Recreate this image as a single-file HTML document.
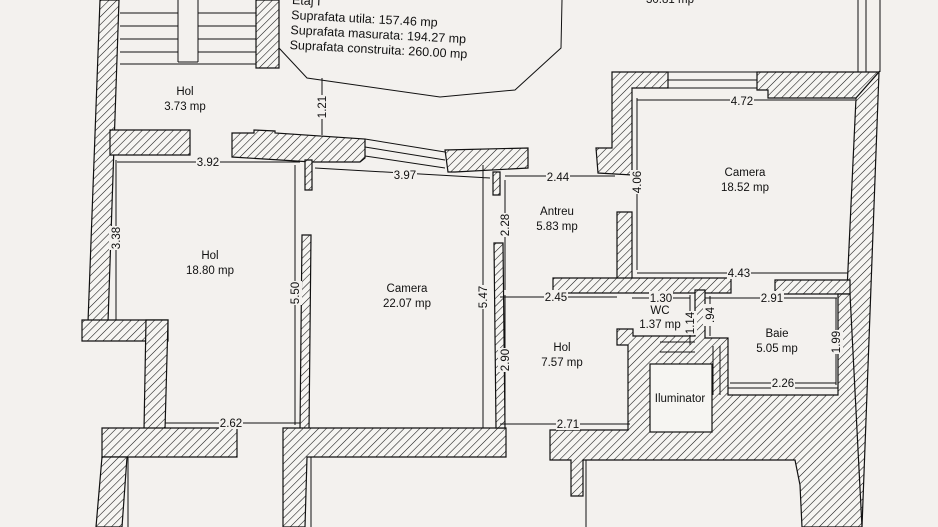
<!DOCTYPE html>
<html><head><meta charset="utf-8"><style>
html,body{margin:0;padding:0;background:#f3f1ee;}
svg{display:block;}
text{font-family:"Liberation Sans Narrow","Liberation Sans",sans-serif;font-size:11.5px;fill:#111;}
</style></head><body>
<svg width="938" height="527" viewBox="0 0 938 527" xmlns="http://www.w3.org/2000/svg">
<defs>
<pattern id="h" width="5.5" height="5.5" patternUnits="userSpaceOnUse" patternTransform="rotate(45)">
<rect width="6" height="6" fill="#f6f5f2"/><line x1="0" y1="0" x2="0" y2="6" stroke="#111" stroke-width="1.1"/>
</pattern>
</defs>
<rect width="938" height="527" fill="#f3f1ee"/>
<g fill="url(#h)" stroke="#111" stroke-width="1.2">
<polygon points="100,0 119,0 108,322 88,322"/>
<polygon points="82,320 168,320 168,341 82,341"/>
<polygon points="146,320 168,320 165,430 144,430"/>
<polygon points="102,428 237,428 237,457 102,457"/>
<polygon points="102,457 127,457 122,527 96,527"/>
<polygon points="110,130 190,130 190,155 110,155"/>
<polygon points="256,0 279,0 279,68 256,68"/>
<polygon points="232,133 254,133 254,130 275,131 275,133 365,139 365,158 360,162 312,162 232,157"/>
<polygon points="305,160 312,160 312,190 305,190"/>
<polygon points="445,150 528,148 528,168 455,172 448,172"/>
<polygon points="493,172 500,172 500,195 493,195"/>
<polygon points="302,235 311,235 309,430 300,430"/>
<polygon points="283,428 506,428 506,457 307,457 305,527 283,527 283,457"/>
<polygon points="494,243 503,243 505,428 496,428"/>
<polygon points="612,72 668,72 668,88 632,88 632,175 598,173 596,148 612,148"/>
<polygon points="757,72 879,72 856,98 768,98 768,90 757,90"/>
<polygon points="856,98 879,72 862,527 840,527 847,290"/>
<polygon points="617,212 632,212 632,280 617,280"/>
<polygon points="553,278 731,278 731,293 553,293"/>
<polygon points="775,280 850,280 850,294 775,294"/>
<polygon points="550,430 628,430 628,345 617,345 617,329 633,329 633,336 695,336 695,290 705,290 705,338 728,338 728,395 838,395 838,294 850,294 862,527 802,527 800,485 795,460 583,460 583,496 571,496 571,460 550,460"/>
</g>
<rect x="650" y="364" width="62" height="68" fill="#f6f5f2" stroke="#111" stroke-width="1.2"/>
<g stroke="#111" stroke-width="1" fill="none">
<line x1="120" y1="64" x2="256" y2="64"/>
<line x1="178" y1="0" x2="178" y2="62"/><line x1="198" y1="0" x2="198" y2="62"/><line x1="178" y1="62" x2="198" y2="62"/>
<path d="M120,13H178M120,26H178M120,39H178M120,52H178M198,13H256M198,26H256M198,39H256M198,52H256"/>
<polyline points="279,48 307,78 440,97 515,90 561,48 562,0"/>
<path d="M365,139 L445,152 M365,147 L445,160 M365,156 L445,168"/>
<path d="M668,72H757M668,80H757M668,88H757"/>
<path d="M858,0V72M866,0V72M880,0V72"/>
<path d="M660,342H695M660,352H695M713,346V395M720,346V395"/>
<path d="M728,388H838"/>
<path d="M117,162H300M315,168L490,178M505,176H615M637,100H855M637,98V270M322,78V135M116,160V320M295,165V425M505,180V290M483,165V428M505,295V425M165,423H300M500,424H630M500,297H617M632,298H690M705,298H837M637,273H848M690,295V345M710,296V336M836,298V385M730,383H836"/>
<path d="M128,457V527M311,457V527M586,460V527"/>
</g>
<g fill="#f3f1ee">
<rect x="196" y="155" width="24" height="13"/>
<rect x="393" y="168" width="24" height="13"/>
<rect x="546" y="170" width="24" height="13"/>
<rect x="730" y="94" width="24" height="13"/>
<rect x="219" y="416" width="24" height="13"/>
<rect x="556" y="417" width="24" height="13"/>
<rect x="544" y="290" width="24" height="13"/>
<rect x="649" y="291" width="24" height="13"/>
<rect x="760" y="291" width="24" height="13"/>
<rect x="727" y="266" width="24" height="13"/>
<rect x="771" y="376" width="24" height="13"/>
<rect x="630" y="170" width="14" height="24"/>
<rect x="315" y="95" width="14" height="24"/>
<rect x="109" y="226" width="14" height="24"/>
<rect x="288" y="281" width="14" height="24"/>
<rect x="498" y="213" width="14" height="24"/>
<rect x="476" y="285" width="14" height="24"/>
<rect x="498" y="348" width="14" height="24"/>
<rect x="683" y="311" width="14" height="24"/>
<rect x="703" y="304" width="14" height="22"/>
<rect x="829" y="330" width="14" height="24"/>
</g>
<g text-anchor="middle">
<text x="208" y="166">3.92</text>
<text x="405" y="179">3.97</text>
<text x="558" y="181">2.44</text>
<text x="742" y="105">4.72</text>
<text x="231" y="427">2.62</text>
<text x="568" y="428">2.71</text>
<text x="556" y="301">2.45</text>
<text x="661" y="302">1.30</text>
<text x="772" y="302">2.91</text>
<text x="739" y="277">4.43</text>
<text x="783" y="387">2.26</text>
<text transform="translate(641,182) rotate(-90)">4.06</text>
<text transform="translate(326,107) rotate(-90)">1.21</text>
<text transform="translate(120,238) rotate(-90)">3.38</text>
<text transform="translate(299,293) rotate(-90)">5.50</text>
<text transform="translate(509,225) rotate(-90)">2.28</text>
<text transform="translate(487,297) rotate(-90)">5.47</text>
<text transform="translate(509,360) rotate(-90)">2.90</text>
<text transform="translate(694,323) rotate(-90)">1.14</text>
<text transform="translate(714,315) rotate(-90)">.94</text>
<text transform="translate(840,342) rotate(-90)">1.99</text>
<text x="185" y="95">Hol</text><text x="185" y="110">3.73 mp</text>
<text x="210" y="259">Hol</text><text x="210" y="274">18.80 mp</text>
<text x="407" y="292">Camera</text><text x="407" y="307">22.07 mp</text>
<text x="557" y="215">Antreu</text><text x="557" y="230">5.83 mp</text>
<text x="745" y="176">Camera</text><text x="745" y="191">18.52 mp</text>
<text x="660" y="314">WC</text><text x="660" y="328">1.37 mp</text>
<text x="777" y="337">Baie</text><text x="777" y="352">5.05 mp</text>
<text x="562" y="351">Hol</text><text x="562" y="366">7.57 mp</text>
<text x="680" y="402">Iluminator</text>
<text x="670" y="3">30.81 mp</text>
</g>
<g transform="rotate(3 291 20)" style="font-size:12.5px">
<text x="291" y="4" style="font-size:12.5px">Etaj I</text>
<text x="291" y="19" style="font-size:12.5px">Suprafata utila: 157.46 mp</text>
<text x="291" y="34" style="font-size:12.5px">Suprafata masurata: 194.27 mp</text>
<text x="291" y="49" style="font-size:12.5px">Suprafata construita: 260.00 mp</text>
</g>
</svg>
</body></html>
